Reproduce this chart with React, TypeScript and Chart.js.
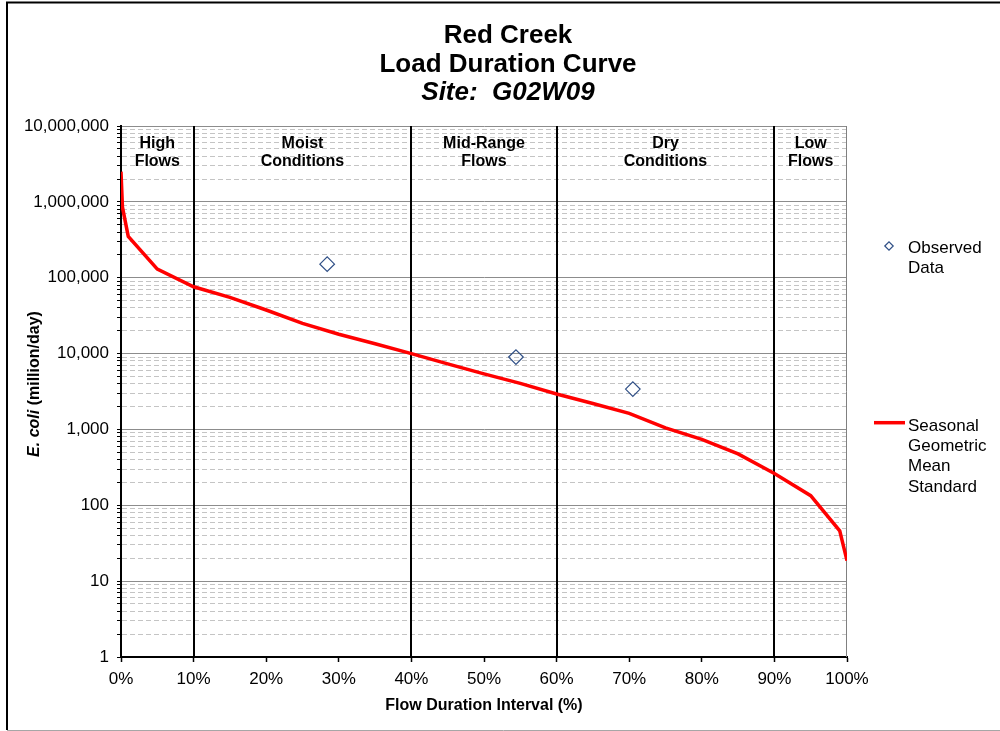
import React, { useEffect, useRef } from "react";
import { Chart, registerables } from "chart.js";

Chart.register(...registerables);

// ---------- data ----------
const TITLE_LINES = ["Red Creek", "Load Duration Curve", "Site:  G02W09"];
const X_TITLE = "Flow Duration Interval (%)";
const Y_TITLE_ITALIC = "E. coli";
const Y_TITLE_REST = " (million/day)";

const X_TICKS = [0, 10, 20, 30, 40, 50, 60, 70, 80, 90, 100];
const Y_DECADES = [1, 10, 100, 1000, 10000, 100000, 1000000, 10000000];
const Y_MINOR_MULTIPLIERS = [2, 3, 4, 5, 6, 7, 8, 9];

const CURVE_X = [0, 0.2, 1, 5, 10, 15, 20, 25, 30, 35, 40, 45, 50, 55, 60, 65, 70, 75, 80, 85, 90, 95, 99, 100];
const CURVE_Y = [2500000, 850000, 350000, 130000, 76000, 55000, 37500, 25000, 18000, 13500, 10000, 7300, 5400, 4050, 2930, 2200, 1630, 1050, 740, 475, 262, 134, 46, 18.6];

const OBS_X = [28.4, 54.4, 70.5];
const OBS_Y = [151000, 9000, 3400];

const ZONE_EDGES = [0, 10, 40, 60, 90, 100];
const ZONE_LABELS = [
  ["High", "Flows"],
  ["Moist", "Conditions"],
  ["Mid-Range", "Flows"],
  ["Dry", "Conditions"],
  ["Low", "Flows"],
];

const LEGEND_OBSERVED = ["Observed", "Data"];
const LEGEND_STANDARD = ["Seasonal", "Geometric", "Mean", "Standard"];

// ---------- helpers ----------
const FONT = '"Liberation Sans", Arial, Helvetica, sans-serif';
const RED = "#ff0000";
const DIAMOND = "#2f4f86";

const isDecade = (v: number) =>
  v > 0 && Math.abs(Math.log10(v) - Math.round(Math.log10(v))) < 1e-9;

const Y_TICK_VALUES: number[] = [];
Y_DECADES.forEach((d, i) => {
  Y_TICK_VALUES.push(d);
  if (i < Y_DECADES.length - 1) Y_MINOR_MULTIPLIERS.forEach((m) => Y_TICK_VALUES.push(d * m));
});
Y_TICK_VALUES.sort((a, b) => a - b);

const decorPlugin = {
  id: "decor",
  beforeDraw(chart: any) {
    const { ctx, width, height } = chart;
    ctx.save();
    ctx.fillStyle = "#ffffff";
    ctx.fillRect(0, 0, width, height);
    // outer frame
    ctx.strokeStyle = "#000";
    ctx.lineWidth = 2;
    ctx.beginPath();
    ctx.moveTo(7, 730);
    ctx.lineTo(7, 2.5);
    ctx.lineTo(width, 2.5);
    ctx.stroke();
    ctx.strokeStyle = "#a6a6a6";
    ctx.lineWidth = 1;
    ctx.beginPath();
    ctx.moveTo(7, 730.5);
    ctx.lineTo(width, 730.5);
    ctx.stroke();
    ctx.restore();
  },
  beforeDatasetsDraw(chart: any) {
    const { ctx, chartArea, scales } = chart;
    const xs = scales.x;
    ctx.save();
    // right plot border
    ctx.strokeStyle = "#808080";
    ctx.lineWidth = 1;
    ctx.beginPath();
    ctx.moveTo(chartArea.right - 0.5, chartArea.top);
    ctx.lineTo(chartArea.right - 0.5, chartArea.bottom);
    ctx.stroke();
    // zone divider lines
    ctx.strokeStyle = "#000";
    ctx.lineWidth = 2;
    ZONE_EDGES.slice(1, -1).forEach((e) => {
      const px = Math.round(xs.getPixelForValue(e));
      ctx.beginPath();
      ctx.moveTo(px, chartArea.top);
      ctx.lineTo(px, chartArea.bottom);
      ctx.stroke();
    });
    // zone labels
    ctx.fillStyle = "#000";
    ctx.font = `bold 16px ${FONT}`;
    ctx.textAlign = "center";
    ctx.textBaseline = "alphabetic";
    ZONE_LABELS.forEach((lines, i) => {
      const cx = (xs.getPixelForValue(ZONE_EDGES[i]) + xs.getPixelForValue(ZONE_EDGES[i + 1])) / 2;
      lines.forEach((t, j) => ctx.fillText(t, cx, chartArea.top + 21.5 + j * 18));
    });
    ctx.restore();
  },
  afterDraw(chart: any) {
    const { ctx, chartArea } = chart;
    ctx.save();
    ctx.fillStyle = "#000";
    ctx.textBaseline = "alphabetic";
    // title
    ctx.textAlign = "center";
    ctx.font = `bold 26px ${FONT}`;
    ctx.fillText(TITLE_LINES[0], 508, 43);
    ctx.fillText(TITLE_LINES[1], 508, 71.5);
    ctx.font = `italic bold 26px ${FONT}`;
    ctx.fillText(TITLE_LINES[2], 508, 100);
    // x title
    ctx.font = `bold 16px ${FONT}`;
    ctx.fillText(X_TITLE, (chartArea.left + chartArea.right) / 2, 709.5);
    // y title (mixed style)
    ctx.translate(38.5, 384);
    ctx.rotate(-Math.PI / 2);
    ctx.textAlign = "left";
    ctx.font = `italic bold 16px ${FONT}`;
    const w1 = ctx.measureText(Y_TITLE_ITALIC).width;
    ctx.font = `bold 16px ${FONT}`;
    const w2 = ctx.measureText(Y_TITLE_REST).width;
    const start = -(w1 + w2) / 2;
    ctx.font = `italic bold 16px ${FONT}`;
    ctx.fillText(Y_TITLE_ITALIC, start, 0);
    ctx.font = `bold 16px ${FONT}`;
    ctx.fillText(Y_TITLE_REST, start + w1, 0);
    ctx.setTransform(1, 0, 0, 1, 0, 0);
    // legend
    ctx.font = `17px ${FONT}`;
    ctx.textAlign = "left";
    ctx.strokeStyle = DIAMOND;
    ctx.lineWidth = 1.2;
    const dx = 889, dy = 246, r = 4.2;
    ctx.beginPath();
    ctx.moveTo(dx - r, dy);
    ctx.lineTo(dx, dy - r);
    ctx.lineTo(dx + r, dy);
    ctx.lineTo(dx, dy + r);
    ctx.closePath();
    ctx.stroke();
    LEGEND_OBSERVED.forEach((t, i) => ctx.fillText(t, 908, 253 + i * 20.3));
    ctx.strokeStyle = RED;
    ctx.lineWidth = 3.5;
    ctx.beginPath();
    ctx.moveTo(874, 422.7);
    ctx.lineTo(905, 422.7);
    ctx.stroke();
    LEGEND_STANDARD.forEach((t, i) => ctx.fillText(t, 908, 430.7 + i * 20.3));
    ctx.restore();
  },
};

export default function App() {
  const ref = useRef<HTMLCanvasElement>(null);
  useEffect(() => {
    if (!ref.current) return;
    const chart = new Chart(ref.current, {
      type: "scatter",
      data: {
        datasets: [
          {
            label: "Seasonal Geometric Mean Standard",
            data: CURVE_X.map((x, i) => ({ x, y: CURVE_Y[i] })),
            showLine: true,
            borderColor: RED,
            borderWidth: 3.5,
            pointRadius: 0,
            tension: 0,
            order: 2,
          },
          {
            label: "Observed Data",
            data: OBS_X.map((x, i) => ({ x, y: OBS_Y[i] })),
            showLine: false,
            pointStyle: "rectRot",
            pointRadius: 7.3,
            borderColor: DIAMOND,
            borderWidth: 1.2,
            backgroundColor: "rgba(255,255,255,0)",
            order: 1,
          },
        ],
      },
      options: {
        responsive: false,
        animation: false,
        devicePixelRatio: 1,
        layout: { padding: { left: 0, top: 126, right: 153, bottom: 0 } },
        plugins: { legend: { display: false }, tooltip: { enabled: false }, title: { display: false } },
        scales: {
          x: {
            type: "linear",
            min: 0,
            max: 100,
            afterFit: (s: any) => {
              s.height = 74;
            },
            afterBuildTicks: (s: any) => {
              s.ticks = X_TICKS.map((v) => ({ value: v }));
            },
            ticks: {
              autoSkip: false,
              maxRotation: 0,
              color: "#000",
              font: { family: FONT, size: 17 },
              padding: 7,
              callback: (v: any) => `${v}%`,
            },
            grid: {
              display: true,
              drawOnChartArea: false,
              drawTicks: true,
              tickLength: 5,
              tickColor: "#000",
              tickWidth: 1.5,
            },
            border: { display: true, color: "#000", width: 2 },
          },
          y: {
            type: "logarithmic",
            min: 1,
            max: 10000000,
            afterFit: (s: any) => {
              s.width = 121;
            },
            afterBuildTicks: (s: any) => {
              s.ticks = Y_TICK_VALUES.map((v) => ({ value: v, major: isDecade(v) }));
            },
            ticks: {
              autoSkip: false,
              color: "#000",
              font: { family: FONT, size: 17 },
              padding: 8,
              callback: (v: any) => (isDecade(Number(v)) ? Number(v).toLocaleString("en-US") : ""),
            },
            grid: {
              display: true,
              drawTicks: true,
              tickLength: 4,
              tickColor: "#000",
              tickWidth: 1,
              lineWidth: 1,
              color: (c: any) => (c.tick && isDecade(c.tick.value) ? "#8c8c8c" : "#c4c4c4"),
            },
            border: {
              display: true,
              color: "#000",
              width: 2,
              dash: (c: any) => (c.tick && !isDecade(c.tick.value) ? [5, 3] : []),
            },
          },
        },
      } as any,
      plugins: [decorPlugin],
    });
    return () => chart.destroy();
  }, []);
  return (
    <div style={{ position: "absolute", left: 0, top: 0, width: 1000, height: 731 }}>
      <canvas ref={ref} width={1000} height={731} style={{ display: "block", width: 1000, height: 731 }} />
    </div>
  );
}
